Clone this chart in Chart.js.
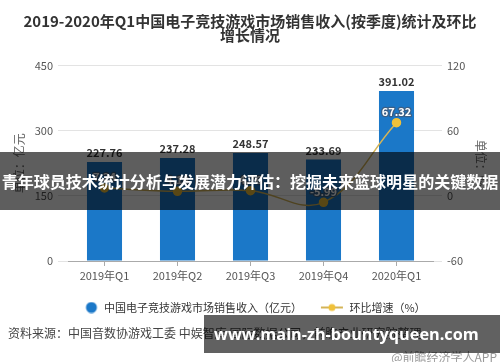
<!DOCTYPE html>
<html>
<head>
<meta charset="utf-8">
<script src="https://cdn.jsdelivr.net/npm/chart.js@4.4.1/dist/chart.umd.min.js"></script>
<style>
  html,body{margin:0;padding:0;background:#fff;}
  #wrap{position:relative;width:500px;height:362px;overflow:hidden;background:#fff;font-family:"Noto Sans CJK SC",sans-serif;}
  #c{position:absolute;left:0;top:0;}
  .ov{position:absolute;white-space:nowrap;}
  #source{left:8px;top:325px;font-size:12px;color:#444;line-height:16px;}
  #credit{right:3px;top:350px;font-size:12px;color:#999;line-height:14px;}
  #banner{left:0;top:152px;width:500px;height:58px;background:rgba(0,0,0,0.63);}
  #bannerText{position:absolute;left:0;top:0;width:500px;height:58px;line-height:58px;text-align:center;color:#fff;font-weight:bold;font-size:16px;font-family:"Noto Sans CJK SC",sans-serif;}
  #bannerText span{display:inline-block;}
  #wm{left:204px;top:315px;width:296px;height:38px;background:rgba(0,0,0,0.62);}
  #wmText{position:absolute;left:10px;top:0;height:38px;line-height:38px;color:#fff;font-weight:bold;font-size:19px;font-family:"Open Sans",sans-serif;}
</style>
</head>
<body>
<div id="wrap">
  <canvas id="c" width="500" height="362"></canvas>
  <div class="ov" id="source">资料来源：中国音数协游戏工委 中娱智库 国际数据公司，前瞻产业研究院整理</div>
  <div class="ov" id="credit">@前瞻经济学人APP</div>
  <div class="ov" id="banner"><div id="bannerText"><span id="bt">青年球员技术统计分析与发展潜力评估：挖掘未来篮球明星的关键数据</span></div></div>
  <div class="ov" id="wm"><span id="wmText">www.main-zh-bountyqueen.com</span></div>
</div>
<script>
const quarters = ['2019年Q1','2019年Q2','2019年Q3','2019年Q4','2020年Q1'];
const revenue = [227.76, 237.28, 248.57, 233.69, 391.02];
const growth = [7.24, 4.18, 4.76, -5.99, 67.32];
const revenueTicks = [0, 150, 300, 450];
const growthTicks = [-60, 0, 60, 120];
const titleLines = ['2019-2020年Q1中国电子竞技游戏市场销售收入(按季度)统计及环比', '增长情况'];
const seriesNames = ['中国电子竞技游戏市场销售收入（亿元）', '环比增速（%）'];

const FONT = '"Noto Sans CJK SC", "Noto Sans", sans-serif';
const BAR = '#1b78c8';
const LINE = '#d4b457';
const DOT = '#f0c13a';

function makeCircleIcon(){
  const c = document.createElement('canvas'); c.width = 24; c.height = 12;
  const x = c.getContext('2d');
  x.fillStyle = BAR; x.beginPath(); x.arc(17, 6, 5.5, 0, Math.PI*2); x.fill();
  return c;
}
function makeLineIcon(){
  const c = document.createElement('canvas'); c.width = 24; c.height = 12;
  const x = c.getContext('2d');
  x.strokeStyle = LINE; x.lineWidth = 2; x.beginPath(); x.moveTo(1,6); x.lineTo(23,6); x.stroke();
  x.fillStyle = DOT; x.beginPath(); x.arc(12, 6, 3.5, 0, Math.PI*2); x.fill();
  return c;
}
const icons = [makeCircleIcon(), makeLineIcon()];

const valueLabels = {
  id: 'valueLabels',
  afterDatasetsDraw(chart){
    const ctx = chart.ctx;
    ctx.save();
    ctx.textAlign = 'center';
    ctx.textBaseline = 'middle';
    ctx.font = 'bold 11px ' + FONT;
    ctx.fillStyle = '#333';
    chart.getDatasetMeta(0).data.forEach((el, i) => {
      ctx.fillText(revenue[i].toFixed(2), el.x, el.y - 9);
    });
    ctx.lineJoin = 'round';
    ctx.lineWidth = 2.5;
    ctx.strokeStyle = '#3a5f86';
    ctx.fillStyle = '#fff';
    chart.getDatasetMeta(1).data.forEach((el, i) => {
      const t = growth[i].toFixed(2);
      ctx.strokeText(t, el.x, el.y - 11);
      ctx.fillText(t, el.x, el.y - 11);
    });
    ctx.restore();
  }
};

new Chart(document.getElementById('c'), {
  data: {
    labels: quarters,
    datasets: [
      { type: 'bar', label: seriesNames[0], data: revenue, yAxisID: 'y', backgroundColor: BAR,
        categoryPercentage: 0.8, barPercentage: 0.6, order: 2 },
      { type: 'line', label: seriesNames[1], data: growth, yAxisID: 'y1', borderColor: LINE, borderWidth: 1.5,
        pointBackgroundColor: DOT, pointBorderColor: DOT, pointRadius: 4, tension: 0.4, order: 1 }
    ]
  },
  options: {
    responsive: false,
    devicePixelRatio: 1,
    animation: false,
    layout: { padding: { left: 12, right: 12, top: 0, bottom: 39 } },
    plugins: {
      tooltip: { enabled: false },
      title: {
        display: true, text: titleLines, color: '#333',
        font: { family: FONT, size: 15, weight: 'bold', lineHeight: 0.95 },
        padding: { top: 14, bottom: 23 }
      },
      legend: {
        position: 'bottom',
        labels: {
          usePointStyle: true, pointStyleWidth: 24, boxHeight: 11, padding: 18,
          color: '#333', font: { family: FONT, size: 11 },
          generateLabels(chart){
            return chart.data.datasets.map((d, i) => ({
              text: d.label, pointStyle: icons[i], fillStyle: 'transparent', strokeStyle: 'transparent',
              lineWidth: 0, datasetIndex: i, hidden: false, fontColor: '#333'
            }));
          }
        }
      }
    },
    scales: {
      x: {
        offset: true,
        grid: { drawOnChartArea: false, drawTicks: true, tickLength: 5, offset: false, color: '#aaa' },
        border: { color: '#aaa' },
        ticks: { color: '#555', font: { family: FONT, size: 11 }, padding: 3 },
        afterFit(s){ s.height = 23; }
      },
      y: {
        position: 'left', min: revenueTicks[0], max: revenueTicks[revenueTicks.length-1],
        ticks: { stepSize: revenueTicks[1]-revenueTicks[0], color: '#555', font: { family: FONT, size: 11 }, padding: 5 },
        grid: { color: '#e3e3e3', drawTicks: true, tickLength: 10 },
        border: { display: false },
        title: { display: true, text: '单位：亿元', color: '#666', font: { family: FONT, size: 12 }, padding: 0 },
        afterFit(s){ s.width = 56; }
      },
      y1: {
        position: 'right', min: growthTicks[0], max: growthTicks[growthTicks.length-1],
        ticks: { stepSize: growthTicks[1]-growthTicks[0], color: '#555', font: { family: FONT, size: 11 }, padding: 5 },
        grid: { drawOnChartArea: false, color: '#e3e3e3', drawTicks: true, tickLength: 9 },
        border: { display: false },
        title: { display: true, text: '单位：%', color: '#666', font: { family: FONT, size: 12 }, padding: 0 },
        afterFit(s){ s.width = 55; }
      }
    }
  },
  plugins: [valueLabels]
});

function fitWidth(el, target){
  const fs = parseFloat(getComputedStyle(el).fontSize);
  const w = el.getBoundingClientRect().width;
  if (w > 0) el.style.fontSize = (fs * target / w) + 'px';
}
fitWidth(document.getElementById('bt'), 497);
fitWidth(document.getElementById('wmText'), 265);
</script>
</body>
</html>
